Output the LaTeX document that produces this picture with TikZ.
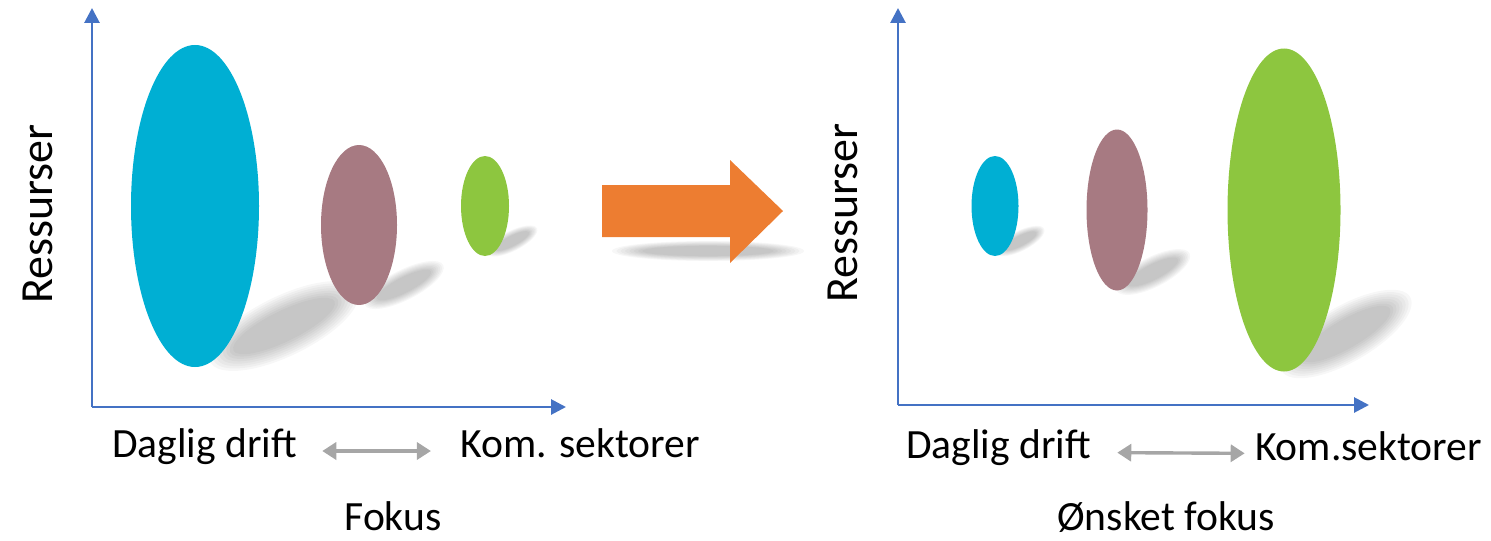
\documentclass[tikz,border=0pt]{standalone}
\usepackage{fontspec}
\setmainfont{Carlito}
\usetikzlibrary{arrows.meta, shapes.geometric}
\definecolor{axisblue}{HTML}{4472C4}
\definecolor{cyanfill}{HTML}{00AFD3}
\definecolor{mauvefill}{HTML}{A77A82}
\definecolor{greenfill}{HTML}{8DC63F}
\definecolor{orangefill}{HTML}{ED7D31}
\definecolor{arrowgray}{HTML}{A6A6A6}
\tikzstyle{axis} = [draw=axisblue, line width=1.4pt, -{Triangle[length=7.5pt, width=7.5pt]}]
\tikzstyle{blob} = [ellipse, draw=none, inner sep=0mm]
\tikzstyle{lbl} = [inner sep=0mm, anchor=base, font=\fontsize{20.8}{24}\selectfont, text height=0.85em, text depth=0.25em]
\tikzstyle{ylbl} = [inner sep=0mm, rotate=90, font=\fontsize{23}{27}\selectfont]
\tikzstyle{twoway} = [draw=arrowgray, line width=1.7pt, {Triangle[length=7pt, width=8.5pt]}-{Triangle[length=7pt, width=8.5pt]}]
% soft shadow: centre, angle, half length, half width
\newcommand{\softshadow}[5]{
    \begin{scope}[shift={(#1,#2)}, rotate=#3]
        \foreach \k in {0,...,7}
        \fill[black, opacity=0.03] (0,0) ellipse [x radius={#4*(1-0.045*\k)}, y radius={#5*(1-0.07*\k)}];
    \end{scope}
}

\begin{document}
\begin{tikzpicture}[x=0.5pt, y=-0.5pt]
                \useasboundingbox (0,0) rectangle (1491,540);

                % left chart
                \coordinate (o1) at (92,407);
                \coordinate (ytop1) at (92,8);
                \coordinate (xend1) at (566,407);
                \draw[axis] (o1) -- (ytop1);
                \draw[axis] (o1) -- (xend1);
                \softshadow{284}{326}{26}{82}{30}
                \softshadow{404}{285}{27}{44}{15}
                \softshadow{512}{241}{27}{28}{10}
                \node[blob, fill=cyanfill, minimum width=64pt, minimum height=161pt] (drift1) at (195,206) {};
                \node[blob, fill=mauvefill, minimum width=38pt, minimum height=80pt] (mid1) at (359,225) {};
                \node[blob, fill=greenfill, minimum width=24pt, minimum height=50pt] (sekt1) at (485,206) {};
                \node[ylbl] (res1) at (38,214) {Ressurser};
                \node[lbl] (dd1) at (204.5,457) {Daglig drift};
                \node[lbl] (ks1) at (580,457) {Kom. sektorer};
                \node[lbl] (fok1) at (393,530) {Fokus};
                \draw[twoway, shorten <=12.5pt, shorten >=14.5pt] (dd1) -- (ks1);

                % big arrow
                \softshadow{708}{251}{0}{96}{10}
                \fill[orangefill] (602,185) -- (730,185) -- (730,160) -- (783,211) -- (730,263) -- (730,237) -- (602,237) -- cycle;

                % right chart
                \coordinate (o2) at (898,405);
                \coordinate (ytop2) at (898,8);
                \coordinate (xend2) at (1369,405);
                \draw[axis] (o2) -- (ytop2);
                \draw[axis] (o2) -- (xend2);
                \softshadow{1020}{241}{27}{27}{10}
                \softshadow{1153}{272}{27}{41}{15}
                \softshadow{1346}{334}{30}{74}{28}
                \node[blob, fill=cyanfill, minimum width=23.5pt, minimum height=50pt] (drift2) at (995,206) {};
                \node[blob, fill=mauvefill, minimum width=30.5pt, minimum height=80.5pt] (mid2) at (1117,210) {};
                \node[blob, fill=greenfill, minimum width=56.5pt, minimum height=161.5pt] (sekt2) at (1284,210) {};
                \node[ylbl] (res2) at (843,213) {Ressurser};
                \node[lbl] (dd2) at (998.5,458) {Daglig drift};
                \node[lbl] (ks2) at (1368.5,460) {Kom.sektorer};
                \node[lbl] (fok2) at (1166,530) {Ønsket fokus};
                \draw[twoway, shorten <=13pt, shorten >=5pt] (dd2) -- (ks2);
            \end{tikzpicture}
\end{document}
